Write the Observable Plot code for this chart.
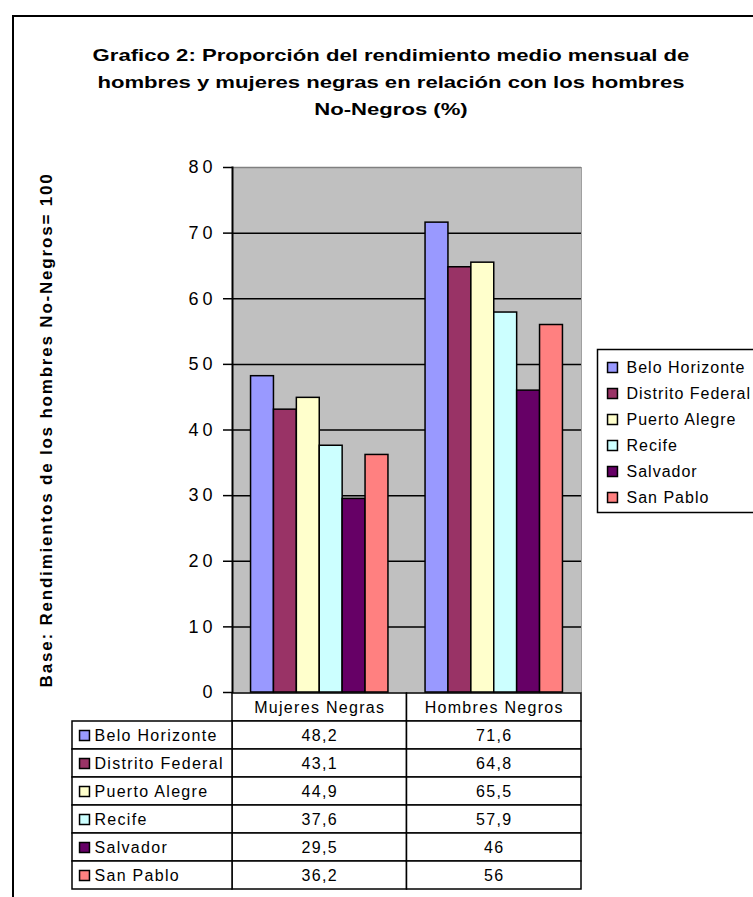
<!DOCTYPE html>
<html><head><meta charset="utf-8">
<script src="https://cdn.jsdelivr.net/npm/d3@7"></script>
<script src="https://cdn.jsdelivr.net/npm/@observablehq/plot@0.6"></script>
<style>
body{margin:0;background:#fff;overflow:hidden;}
#root{position:relative;width:753px;height:897px;overflow:hidden;font-family:"Liberation Sans",Arial,sans-serif;background:#fff;}
#frame{position:absolute;left:12px;top:15px;width:900px;height:1000px;border:2px solid #000;box-sizing:border-box;}
#title{position:absolute;left:0;top:42px;width:782px;text-align:center;font-weight:bold;font-size:17px;line-height:27px;color:#000;transform:scaleX(1.3);transform-origin:391px 0;}
#root svg{position:absolute;left:0;top:0;}
</style></head><body><div id="root"><div id="frame"></div><div id="title"></div></div>
<script>
const titleLines = ["Grafico 2: Proporción del rendimiento medio mensual de","hombres y mujeres negras en relación con los hombres","No-Negros (%)"];
const yLabel = "Base: Rendimientos de los hombres No-Negros= 100";
const groups = ["Mujeres Negras","Hombres Negros"];
const cities = ["Belo Horizonte","Distrito Federal","Puerto Alegre","Recife","Salvador","San Pablo"];
const colors = ["#9999FF","#993366","#FFFFCC","#CCFFFF","#660066","#FF8080"];
const mujeres = [48.2,43.1,44.9,37.6,29.5,36.2];
const hombres = [71.6,64.8,65.5,57.9,46,56];
const yTicks = [0,10,20,30,40,50,60,70,80];

const root = document.getElementById("root");
const titleEl = document.getElementById("title");
titleLines.forEach(t => { const d = document.createElement("div"); d.textContent = t; titleEl.appendChild(d); });

const series = [mujeres, hombres];
const rows = groups.flatMap((g, gi) => cities.map((c, i) => ({group: g, city: c, value: series[gi][i]})));
const fmt = v => String(v).replace(".", ",");
const W = 753, H = 897;
const M = {marginLeft: 232, marginRight: 172, marginTop: 167, marginBottom: 205};
const baseStyle = "background:transparent;max-width:none;overflow:visible;font-family:'Liberation Sans',Arial,sans-serif;color:#000;";

// Plot area background, grid, y axis
const back = Plot.plot({
  width: W, height: H, ...M,
  style: baseStyle + "font-size:18px;letter-spacing:4px;",
  y: {domain: [0, 80], ticks: yTicks, tickSize: 9, tickPadding: 7, label: null, tickFormat: d => String(d)},
  marks: [
    Plot.frame({fill: "#c0c0c0", stroke: "none"}),
    Plot.ruleY(yTicks.filter(t => t > 0 && t < 80), {stroke: "#000", strokeWidth: 1.5}),
    Plot.ruleY([80], {stroke: "#808080", strokeWidth: 1.5}),
    Plot.frame({anchor: "right", stroke: "#a0a0a0", strokeWidth: 1}),
    Plot.frame({anchor: "left", stroke: "#000", strokeWidth: 2})
  ]
});
back.querySelectorAll('[aria-label="y-axis tick"]').forEach(g => g.setAttribute("stroke-width", 1.5));
root.appendChild(back);

// Y axis title
const ylab = Plot.plot({
  width: W, height: H, ...M,
  style: baseStyle + "letter-spacing:1.8px;",
  marks: [
    Plot.text([yLabel], {frameAnchor: "left", textAnchor: "middle", dx: -186, rotate: -90, fontWeight: "bold", fontSize: 17, fill: "#000"})
  ]
});
root.appendChild(ylab);

// Bars
const chart = Plot.plot({
  width: W, height: H, ...M,
  style: baseStyle,
  facet: {data: rows, x: "group"},
  fx: {domain: groups, padding: 0, round: false, axis: null, label: null},
  x: {domain: cities, paddingInner: 0, paddingOuter: 0.81, round: false, axis: null},
  y: {domain: [0, 80], axis: null},
  color: {domain: cities, range: colors},
  marks: [
    Plot.barY(rows, {x: "city", y: "value", fill: "city", stroke: "#000", strokeWidth: 1.5})
  ]
});
root.appendChild(chart);

// Data table: value columns
const tableCells = [
  ...groups.map(g => ({col: g, row: "__header", text: g})),
  ...rows.map(r => ({col: r.group, row: r.city, text: fmt(r.value)}))
];
const tableA = Plot.plot({
  width: W, height: H,
  marginLeft: 232, marginRight: 172, marginTop: 692, marginBottom: 7,
  style: baseStyle + "letter-spacing:1.3px;",
  x: {domain: groups, padding: 0, round: false, axis: null},
  y: {domain: ["__header", ...cities], padding: 0, axis: null},
  marks: [
    Plot.cell(tableCells, {x: "col", y: "row", fill: "#fff", stroke: "#000", strokeWidth: 1.5}),
    Plot.text(tableCells, {x: "col", y: "row", text: "text", fontSize: 16, fill: "#000"})
  ]
});
root.appendChild(tableA);

// Data table: label column
const tableB = Plot.plot({
  width: W, height: H,
  marginLeft: 72, marginRight: 521, marginTop: 692 + 198 / 7, marginBottom: 7,
  style: baseStyle + "letter-spacing:1.3px;",
  y: {type: "band", domain: cities, padding: 0, axis: null},
  color: {domain: cities, range: colors},
  marks: [
    Plot.cell(cities, {y: d => d, fill: "#fff", stroke: "#000", strokeWidth: 1.5}),
    Plot.dot(cities, {y: d => d, frameAnchor: "left", dx: 12, symbol: "square", r: 5.6, fill: d => d, stroke: "#000", strokeWidth: 1.5}),
    Plot.text(cities, {y: d => d, text: d => d, frameAnchor: "left", textAnchor: "start", dx: 22, fontSize: 16, fill: "#000"})
  ]
});
root.appendChild(tableB);

// Legend
const legend = Plot.plot({
  width: 900, height: H,
  marginLeft: 597, marginRight: 0, marginTop: 349, marginBottom: 385,
  style: baseStyle + "letter-spacing:1px;",
  y: {type: "band", domain: cities, padding: 0, insetTop: 3, axis: null},
  color: {domain: cities, range: colors},
  marks: [
    Plot.frame({fill: "#fff", stroke: "#000", strokeWidth: 1.5}),
    Plot.dot(cities, {y: d => d, frameAnchor: "left", dx: 15, symbol: "square", r: 5.6, fill: d => d, stroke: "#000", strokeWidth: 1.5}),
    Plot.text(cities, {y: d => d, text: d => d, frameAnchor: "left", textAnchor: "start", dx: 29, fontSize: 16, fill: "#000"})
  ]
});
root.appendChild(legend);
</script></body></html>
